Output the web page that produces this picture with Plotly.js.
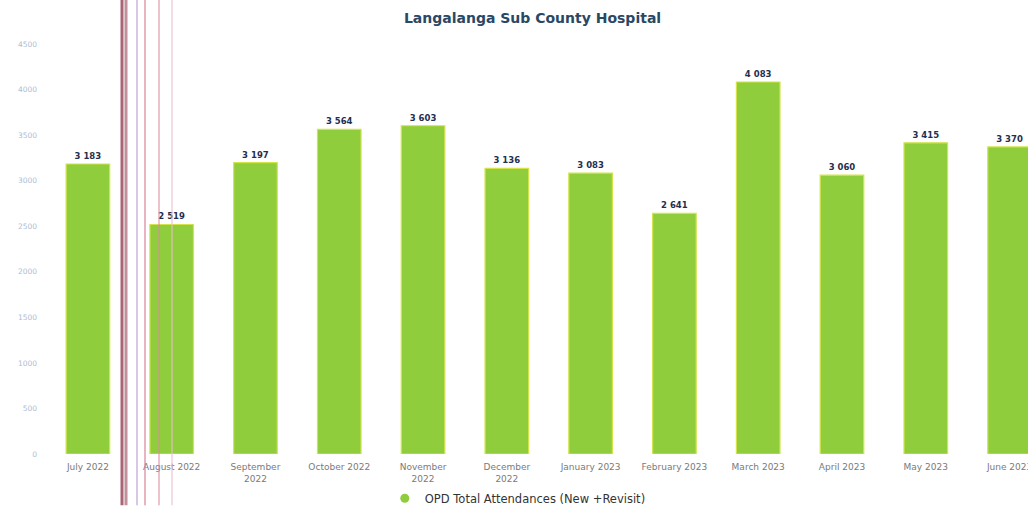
<!DOCTYPE html>
<html>
<head>
<meta charset="utf-8">
<script src="https://cdn.plot.ly/plotly-3.0.1.min.js"></script>
<style>html,body{margin:0;padding:0;background:#fff;}#chart{width:1028px;height:513px;}</style>
</head>
<body>
<div id="chart"></div>
<script>
const months = ["July 2022","August 2022","September<br>2022","October 2022","November<br>2022","December<br>2022","January 2023","February 2023","March 2023","April 2023","May 2023","June 2023"];
const attendances = [3183, 2519, 3197, 3564, 3603, 3136, 3083, 2641, 4083, 3060, 3415, 3370];
const seriesName = "OPD Total Attendances (New +Revisit)";
const chartTitle = "Langalanga Sub County Hospital";
const yTicks = [0, 500, 1000, 1500, 2000, 2500, 3000, 3500, 4000, 4500];

const barColor = "#8fcd3c";
const fontFam = "DejaVu Sans, Verdana, sans-serif";

const traces = [
  {
    type: "bar",
    x: months,
    y: attendances,
    marker: {color: barColor, line: {color: "#d2e44a", width: 1.2}},
    texttemplate: "%{y:,}",
    textposition: "outside",
    cliponaxis: false,
    textfont: {family: fontFam, size: 8.5, color: "#1f2f4f", weight: "bold"},
    showlegend: false,
    hoverinfo: "x+y"
  },
  {
    type: "scatter",
    mode: "markers",
    x: [null],
    y: [null],
    name: seriesName,
    marker: {color: barColor, size: 9, symbol: "circle"},
    showlegend: true
  }
];

function vline(px, color, width) {
  const f = (px - 46) / 982;
  return {type: "line", xref: "paper", yref: "paper", x0: f, x1: f, y0: -0.125, y1: 1.11,
          line: {color: color, width: width}, layer: "above"};
}

const layout = {
  width: 1028, height: 513,
  margin: {l: 46, r: 0, t: 44, b: 51},
  paper_bgcolor: "#ffffff",
  plot_bgcolor: "#ffffff",
  separators: ". ",
  bargap: 0.48,
  title: {
    text: chartTitle,
    x: 0.518, xanchor: "center",
    y: 0.965, yanchor: "middle",
    font: {family: fontFam, size: 14, color: "#2a4864", weight: "bold"}
  },
  xaxis: {
    type: "category",
    range: [-0.5, 11.22],
    showgrid: false, zeroline: false, showline: false,
    ticks: "",
    tickangle: 0,
    ticklabelstandoff: 6,
    tickfont: {family: fontFam, size: 9, color: "#7a7a7a"},
    automargin: false
  },
  yaxis: {
    range: [0, 4500],
    tickvals: yTicks,
    ticktext: yTicks.map(v => String(v)),
    showgrid: false,
    zeroline: false, showline: false,
    ticks: "",
    ticklabelstandoff: 8,
    tickfont: {family: fontFam, size: 7.5, color: "#aebcd4"},
    automargin: false
  },
  showlegend: true,
  legend: {
    orientation: "h",
    x: 0.345, xanchor: "left",
    y: -0.108, yanchor: "middle",
    font: {family: fontFam, size: 11.5, color: "#333333"},
    bgcolor: "rgba(0,0,0,0)"
  },
  shapes: [
    vline(122, "rgba(140,50,70,0.75)", 3),
    vline(126, "rgba(150,70,90,0.6)", 3),
    vline(137, "rgba(190,160,210,0.8)", 1.5),
    vline(145, "rgba(215,130,150,0.8)", 1.5),
    vline(159, "rgba(220,140,160,0.7)", 1.5),
    vline(172, "rgba(235,190,205,0.7)", 1.5)
  ]
};

Plotly.newPlot("chart", traces, layout, {displayModeBar: false, staticPlot: true});
</script>
</body>
</html>
